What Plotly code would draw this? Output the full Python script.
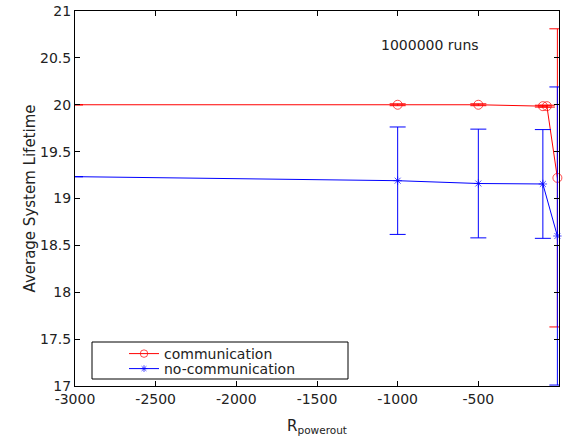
import plotly.graph_objects as go

# Data
comm_x = [-3000, -1000, -500, -100, -75, -10]
comm_y = [20.0, 20.0, 20.0, 19.985, 19.985, 19.22]
comm_err = [None, 0.01, 0.01, 0.01, 0.01, 1.59]
comm_msize = [0, 9, 9, 9, 9, 9]

nocomm_x = [-3000, -1000, -500, -100, -10]
nocomm_y = [19.233, 19.19, 19.16, 19.155, 18.6]
nocomm_err = [None, 0.573, 0.58, 0.58, 1.59]
nocomm_msize = [0, 7, 7, 7, 7]

x_ticks = [-3000, -2500, -2000, -1500, -1000, -500, 0]
y_ticks = [17, 17.5, 18, 18.5, 19, 19.5, 20, 20.5, 21]

FONT = "DejaVu Sans, Liberation Sans, Arial, sans-serif"
TXT = "#222222"

fig = go.Figure()
fig.add_trace(go.Scatter(
    x=comm_x, y=comm_y, mode="lines+markers", name="communication",
    line=dict(color="#ff0000", width=1), cliponaxis=False, legend="legend",
    marker=dict(symbol="circle-open", size=comm_msize, color="#ff0000", line=dict(width=1)),
    error_y=dict(type="data", array=comm_err, color="#ff0000", thickness=1, width=8, visible=True),
))
fig.add_trace(go.Scatter(
    x=nocomm_x, y=nocomm_y, mode="lines+markers", name="no-communication",
    line=dict(color="#0000ff", width=1), cliponaxis=False, legend="legend2",
    marker=dict(symbol="asterisk-open", size=nocomm_msize, color="#0000ff", line=dict(width=1, color="#0000ff")),
    error_y=dict(type="data", array=nocomm_err, color="#0000ff", thickness=1, width=8, visible=True),
))

fig.add_annotation(x=-800, y=20.64, xref="x", yref="y", text="1000000 runs",
                   showarrow=False, font=dict(family=FONT, size=14, color=TXT))

# Legend box
fig.add_shape(type="rect", xref="paper", yref="paper",
              x0=(92 - 75) / 484, x1=(348 - 75) / 484,
              y0=(386 - 379) / 375, y1=(386 - 342) / 375,
              line=dict(color="black", width=1), fillcolor="white", layer="above")

leg_common = dict(xanchor="left", yanchor="top", bgcolor="rgba(0,0,0,0)", borderwidth=0,
                  font=dict(family=FONT, size=14, color=TXT), itemsizing="trace")

fig.update_layout(
    width=563, height=442,
    margin=dict(l=75, r=4, t=11, b=56),
    paper_bgcolor="white", plot_bgcolor="white",
    font=dict(family=FONT, size=14, color=TXT),
    showlegend=True,
    legend=dict(x=(124 - 75) / 484, y=(386 - 338) / 375, **leg_common),
    legend2=dict(x=(124 - 75) / 484, y=(386 - 353) / 375, **leg_common),
    xaxis=dict(range=[-3000, 0], tickvals=x_ticks, ticktext=[str(v) for v in x_ticks],
               showgrid=False, zeroline=False, showline=True, linecolor="black", linewidth=1,
               mirror="ticks", ticks="inside", ticklen=5, tickcolor="black",
               title=dict(text="R<sub>powerout</sub>", font=dict(family=FONT, size=15), standoff=14),
               tickfont=dict(family=FONT, size=14)),
    yaxis=dict(range=[17, 21], tickvals=y_ticks, ticktext=[f"{v:g}" for v in y_ticks],
               showgrid=False, zeroline=False, showline=True, linecolor="black", linewidth=1,
               mirror="ticks", ticks="inside", ticklen=5, tickcolor="black",
               title=dict(text="Average System Lifetime", font=dict(family=FONT, size=15), standoff=0),
               tickfont=dict(family=FONT, size=14)),
)

fig.write_html("out.html")
